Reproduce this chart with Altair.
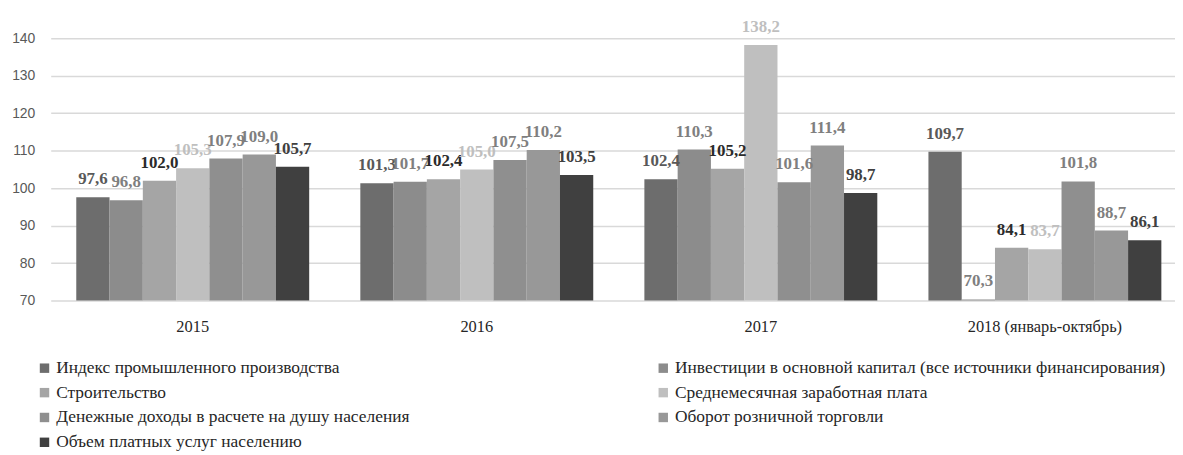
import altair as alt
import pandas as pd

YEARS = ["2015", "2016", "2017", "2018 (январь-октябрь)"]
SERIES = [
    "Индекс промышленного производства",
    "Инвестиции в основной капитал (все источники финансирования)",
    "Строительство",
    "Среднемесячная заработная плата",
    "Денежные доходы в расчете на душу  населения",
    "Оборот розничной торговли",
    "Объем платных услуг  населению",
]
V_INDUSTRY = [97.6, 101.3, 102.4, 109.7]
V_INVEST = [96.8, 101.7, 110.3, 70.3]
V_BUILD = [102.0, 102.4, 105.2, 84.1]
V_WAGE = [105.3, 105.0, 138.2, 83.7]
V_INCOME = [107.9, 107.5, 101.6, 101.8]
V_RETAIL = [109.0, 110.2, 111.4, 88.7]
V_SERVICES = [105.7, 103.5, 98.7, 86.1]
VALUES = [V_INDUSTRY, V_INVEST, V_BUILD, V_WAGE, V_INCOME, V_RETAIL, V_SERVICES]

BAR_COLORS = ["#6d6d6d", "#8c8c8c", "#a5a5a5", "#bfbfbf", "#8f8f8f", "#989898", "#404040"]
LABEL_COLORS = ["#595959", "#7f7f7f", "#2b2b2b", "#bfbfbf", "#7f7f7f", "#7f7f7f", "#404040"]

SERIF = "Liberation Serif"

rows = []
for s, vals in zip(SERIES, VALUES):
    for yr, v in zip(YEARS, vals):
        rows.append({"year": yr, "series": s, "value": v})
df = pd.DataFrame(rows)

# legend fills column by column: put the first-column items first
LEGEND_ORDER = [SERIES[i] for i in (0, 2, 4, 6, 1, 3, 5)]
LEGEND_COLORS = [BAR_COLORS[i] for i in (0, 2, 4, 6, 1, 3, 5)]

x = alt.X(
    "year:N",
    sort=YEARS,
    scale=alt.Scale(range=[0, 1144], paddingInner=0.18, paddingOuter=0.09),
    axis=alt.Axis(
        title=None, labelAngle=0, domain=False, ticks=False,
        labelFont=SERIF, labelFontSize=16.5, labelColor="#262626",
        labelPadding=18,
    ),
)
xo = alt.XOffset("series:N", sort=SERIES,
                 scale=alt.Scale(domain=SERIES, paddingInner=0, paddingOuter=0))
y = alt.Y(
    "value:Q",
    scale=alt.Scale(domain=[70, 140], zero=False, nice=False),
    axis=alt.Axis(
        values=list(range(70, 141, 10)), title=None, domain=False, ticks=False,
        grid=True, gridColor="#d9d9d9", gridWidth=1.5,
        labelFont="Liberation Sans", labelFontSize=14, labelColor="#595959",
        labelPadding=16,
    ),
)

bars = alt.Chart(df).mark_bar().encode(
    x=x,
    xOffset=xo,
    y=y,
    y2=alt.Y2(datum=70),
    color=alt.Color(
        "series:N",
        scale=alt.Scale(domain=LEGEND_ORDER, range=LEGEND_COLORS),
        legend=alt.Legend(
            title=None, orient="none", legendX=-15, legendY=323,
            columns=2, gridAlign="all", columnPadding=108, rowPadding=6,
            symbolType="square", symbolSize=90, symbolStrokeWidth=0,
            labelFont=SERIF, labelFontSize=17.5, labelColor="#262626",
            labelLimit=700, labelOffset=3,
        ),
    ),
)

labels = alt.Chart(df).transform_calculate(
    label="replace(format(datum.value, '.1f'), '.', ',')"
).mark_text(
    font=SERIF, fontWeight="bold", fontSize=17,
    baseline="alphabetic", dy=-13,
).encode(
    x=x,
    xOffset=xo,
    y=y,
    text="label:N",
    color=alt.Color("series:N", scale=alt.Scale(domain=SERIES, range=LABEL_COLORS), legend=None),
)

chart = alt.layer(bars, labels).resolve_scale(color="independent").properties(
    width=1132,
    height=264,
    autosize=alt.AutoSizeParams(type="none"),
    padding={"left": 43, "top": 29, "right": 0, "bottom": 152},
).configure_view(stroke=None)

chart.save("out.html", embed_options={"renderer": "svg", "actions": False})
